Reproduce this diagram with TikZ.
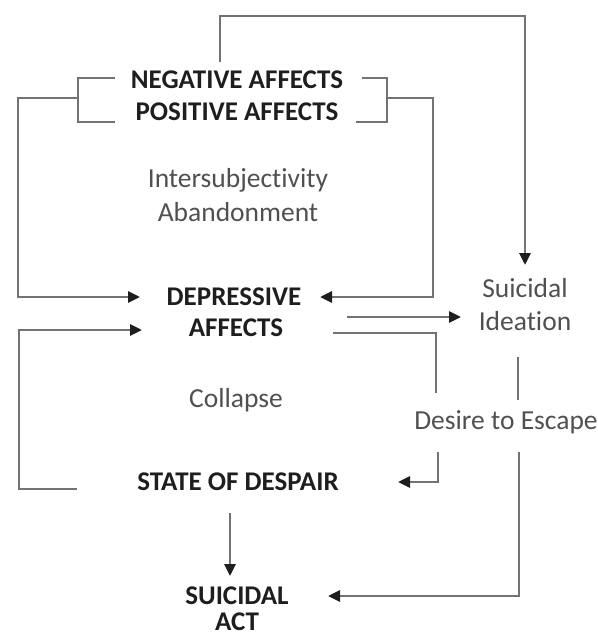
\documentclass[tikz,border=0pt]{standalone}
\usepackage{fontspec}
\setmainfont[Ligatures=NoCommon]{Carlito}
\usetikzlibrary{arrows.meta}
\definecolor{linegray}{RGB}{115,115,115}
\definecolor{tipgray}{RGB}{30,30,30}
\definecolor{capsgray}{RGB}{30,30,30}
\definecolor{textgray}{RGB}{80,80,80}

\begin{document}
\begin{tikzpicture}[x=1pt,y=-1pt,
	line/.style={draw=linegray, line width=2.8pt},
	arr/.style={line, -{Triangle[length=12pt,width=11pt,color=tipgray]}},
	caps/.style={inner sep=0pt, text=capsgray, font=\fontsize{27}{32}\selectfont\bfseries},
	plain/.style={inner sep=0pt, text=textgray, font=\fontsize{27.5}{32}\selectfont}]
	\useasboundingbox (0,0) rectangle (597,637);
	
	%labels
	\node[caps] (neg) at (237,80) {NEGATIVE AFFECTS};
	\node[caps] (pos) at (237,112) {POSITIVE AFFECTS};
	\node[plain] (inter) at (238,180) {Intersubjectivity};
	\node[plain] (aband) at (238,212) {Abandonment};
	\node[caps] (dep) at (234,297) {DEPRESSIVE};
	\node[caps] (aff) at (236,328) {AFFECTS};
	\node[plain] (sui) at (525,288) {Suicidal};
	\node[plain] (idea) at (525,321) {Ideation};
	\node[plain] (coll) at (236,400) {Collapse};
	\node[plain] (desire) at (506,422) {Desire to Escape};
	\node[caps] (despair) at (238,482) {STATE OF DESPAIR};
	\node[caps] (sact) at (237,596) {SUICIDAL};
	\node[caps] (act) at (237,622) {ACT};
	
	%brackets
	\coordinate (lb) at (78,98);
	\coordinate (rb) at (387,98);
	\draw[line] (115,78) -- (78,78) -- (78,122) -- (115,122);
	\draw[line] (362,78) -- (387,78) -- (387,122) -- (356,122);
	
	%affects to depressive
	\draw[arr] (lb) -- (18,98) |- (140,0 |- dep.west);
	\draw[arr] (rb) -- (433,98) |- (320,0 |- dep.east);
	\draw[arr] (220,62) -- (220,16) -| (sui.north |- 0,265);
	
	%depressive to ideation and despair
	\draw[arr] (347,317) -- (461,317);
	\draw[line] (333,333) -- (436,333) -- (436,393);
	\draw[line] (518,357) -- (518,400);
	\draw[arr] (438,452) |- (398,0 |- despair.east);
	\draw[arr] (519,452) |- (328,0 |- sact.east);
	
	%collapse loop
	\draw[arr] (77,489) -| (19,330) -- (142,330);
	\draw[arr] (230,0 |- despair.south) ++(0,22) -- (230,576);
\end{tikzpicture}
\end{document}
